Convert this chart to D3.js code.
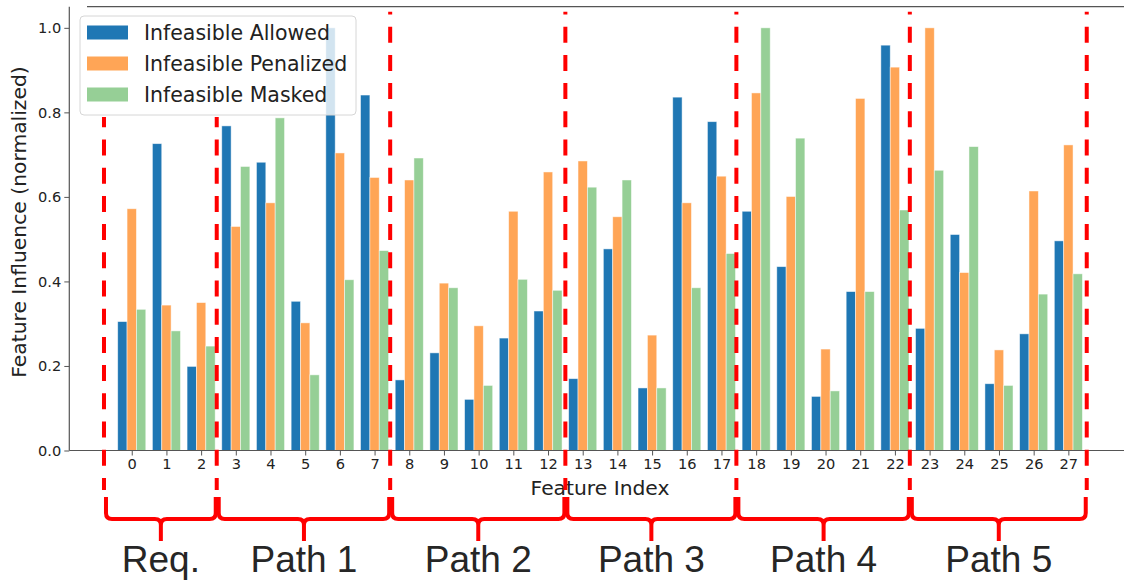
<!DOCTYPE html>
<html lang="en">

<head>
  <meta charset="utf-8" />
  <style>
    body {
      margin: 0;
      background: white;
    }

    svg text {
      font-family: "DejaVu Sans", sans-serif;
      fill: #222;
    }
  </style>
</head>

<body>
  <div id="chart"></div>

  <script src="https://cdnjs.cloudflare.com/ajax/libs/d3/7.8.5/d3.min.js"></script>
  <script>
    // feature indices and the three normalized influence series
    const features = d3.range(28);
    const allowed = [0.305, 0.726, 0.199, 0.768, 0.682, 0.353, 1.0, 0.841, 0.167, 0.231, 0.121, 0.266, 0.33, 0.17,
      0.477, 0.148, 0.836, 0.778, 0.566, 0.435, 0.128, 0.376, 0.959, 0.289, 0.511, 0.158, 0.276, 0.496];
    const penalized = [0.572, 0.344, 0.35, 0.53, 0.586, 0.302, 0.704, 0.646, 0.64, 0.396, 0.295, 0.566, 0.659, 0.685,
      0.553, 0.273, 0.586, 0.649, 0.846, 0.601, 0.24, 0.833, 0.907, 1.0, 0.421, 0.238, 0.614, 0.723];
    const masked = [0.334, 0.283, 0.247, 0.672, 0.787, 0.179, 0.404, 0.473, 0.692, 0.385, 0.154, 0.405, 0.379, 0.623,
      0.64, 0.148, 0.385, 0.466, 1.0, 0.739, 0.141, 0.376, 0.569, 0.663, 0.719, 0.154, 0.37, 0.418];
    const seriesNames = ["Infeasible Allowed", "Infeasible Penalized", "Infeasible Masked"];
    const yTicks = [0, 0.2, 0.4, 0.6, 0.8, 1.0];

    // group annotation: boundaries in feature units, and their labels
    const boundaries = [-0.8, 2.45, 7.45, 12.5, 17.43, 22.43, 27.53];
    const groupNames = ["Req.", "Path 1", "Path 2", "Path 3", "Path 4", "Path 5"];

    const width = 1124;
    const height = 581;

    const svg = d3.select("#chart")
      .append("svg")
      .attr("width", width)
      .attr("height", height);

    const x = d3.scaleLinear().domain([-1.8, 28.8]).range([69.3, 1130.8]);
    const y = d3.scaleLinear().domain([0, 1.05]).range([450.5, 6.7]);

    const colors = ["#1f77b4", "#ffa556", "#96cf96"];
    const barW = 0.27;
    const offsets = [-0.27, 0, 0.27];

    const series = [allowed, penalized, masked];

    // bars
    series.forEach((vals, s) => {
      svg.append("g")
        .selectAll("rect")
        .data(features)
        .join("rect")
        .attr("x", i => x(i + offsets[s] - barW / 2))
        .attr("width", x(barW) - x(0))
        .attr("y", i => y(vals[i]))
        .attr("height", i => y(0) - y(vals[i]))
        .attr("fill", colors[s])
        .attr("stroke", "white")
        .attr("stroke-opacity", 0.6)
        .attr("stroke-width", 0.8);
    });

    // spines
    svg.append("line")
      .attr("x1", x(-1.8)).attr("x2", width)
      .attr("y1", y(0)).attr("y2", y(0))
      .attr("stroke", "#555").attr("stroke-width", 1.2);
    svg.append("line")
      .attr("x1", x(-1.8)).attr("x2", x(-1.8))
      .attr("y1", y(1.05)).attr("y2", y(0))
      .attr("stroke", "#555").attr("stroke-width", 1.2);
    svg.append("line")
      .attr("x1", 87).attr("x2", width)
      .attr("y1", y(1.05)).attr("y2", y(1.05))
      .attr("stroke", "#555").attr("stroke-width", 1.2);

    // x axis
    const xAxis = d3.axisBottom(x)
      .tickValues(features)
      .tickFormat(d3.format("d"))
      .tickSize(5)
      .tickPadding(3);

    const gx = svg.append("g")
      .attr("transform", `translate(0,${y(0)})`)
      .call(xAxis);
    gx.select(".domain").remove();
    gx.selectAll(".tick line").attr("stroke", "#555");
    gx.selectAll(".tick text")
      .attr("font-size", 14.6)
      .attr("font-family", "DejaVu Sans")
      .attr("fill", "#222");

    // y axis
    const yAxis = d3.axisLeft(y)
      .tickValues(yTicks)
      .tickFormat(d3.format(".1f"))
      .tickSize(5)
      .tickPadding(3);

    const gy = svg.append("g")
      .attr("transform", `translate(${x(-1.8)},0)`)
      .call(yAxis);
    gy.select(".domain").remove();
    gy.selectAll(".tick line").attr("stroke", "#555");
    gy.selectAll(".tick text")
      .attr("font-size", 14.6)
      .attr("font-family", "DejaVu Sans")
      .attr("fill", "#222");

    // axis titles
    svg.append("text")
      .attr("x", (x(0) + x(27)) / 2)
      .attr("y", 495)
      .attr("text-anchor", "middle")
      .attr("font-size", 20.3)
      .text("Feature Index");

    svg.append("text")
      .attr("transform", "translate(26,222) rotate(-90)")
      .attr("text-anchor", "middle")
      .attr("font-size", 20.3)
      .text("Feature Influence (normalized)");

    // legend box, used to keep dashed lines out of it
    const legend = { x: 80, y: 16, w: 276, h: 99 };

    // red dashed separators
    const dashPeriod = 28.2;
    const dashPhase = 26.7;
    boundaries.forEach(b => {
      const bx = x(b);
      const top = (bx > legend.x && bx < legend.x + legend.w) ? legend.y + legend.h + 2 : 11.7;
      const off = (((top - dashPhase) % dashPeriod) + dashPeriod) % dashPeriod;
      svg.append("line")
        .attr("x1", bx).attr("x2", bx)
        .attr("y1", top).attr("y2", 490)
        .attr("stroke", "red")
        .attr("stroke-width", 4)
        .attr("stroke-dasharray", "16 12.2")
        .attr("stroke-dashoffset", off);
    });

    // legend
    const lg = svg.append("g");
    lg.append("rect")
      .attr("x", legend.x).attr("y", legend.y)
      .attr("width", legend.w).attr("height", legend.h)
      .attr("rx", 4)
      .attr("fill", "white").attr("fill-opacity", 0.8)
      .attr("stroke", "#d6d6d6").attr("stroke-width", 1);

    seriesNames.forEach((name, s) => {
      const cy = 32.5 + s * 31;
      lg.append("rect")
        .attr("x", 87).attr("y", cy - 7)
        .attr("width", 41).attr("height", 14)
        .attr("fill", colors[s]);
      lg.append("text")
        .attr("x", 144).attr("y", cy + 7.5)
        .attr("font-size", 20.5)
        .text(name);
    });

    // braces under the groups
    function bracePath(x0, x1, y0, ym, yt, r) {
      const xm = (x0 + x1) / 2;
      return `M${x0},${y0} L${x0},${ym - r} Q${x0},${ym} ${x0 + r},${ym} L${xm - r},${ym} ` +
        `Q${xm},${ym} ${xm},${ym + r} L${xm},${yt} M${xm},${ym + r} Q${xm},${ym} ${xm + r},${ym} ` +
        `L${x1 - r},${ym} Q${x1},${ym} ${x1},${ym - r} L${x1},${y0}`;
    }

    groupNames.forEach((name, g) => {
      const x0 = x(boundaries[g]) + 2;
      const x1 = x(boundaries[g + 1]) - 1;
      svg.append("path")
        .attr("d", bracePath(x0, x1, 497, 519, 541, 6))
        .attr("fill", "none")
        .attr("stroke", "red")
        .attr("stroke-width", 4)
        .attr("stroke-linejoin", "round");
      svg.append("text")
        .attr("x", (x0 + x1) / 2)
        .attr("y", 572)
        .attr("text-anchor", "middle")
        .style("font-family", "'Liberation Sans', Arial, sans-serif")
        .attr("font-size", 37)
        .style("fill", "#262626")
        .text(name);
    });
  </script>
</body>

</html>
